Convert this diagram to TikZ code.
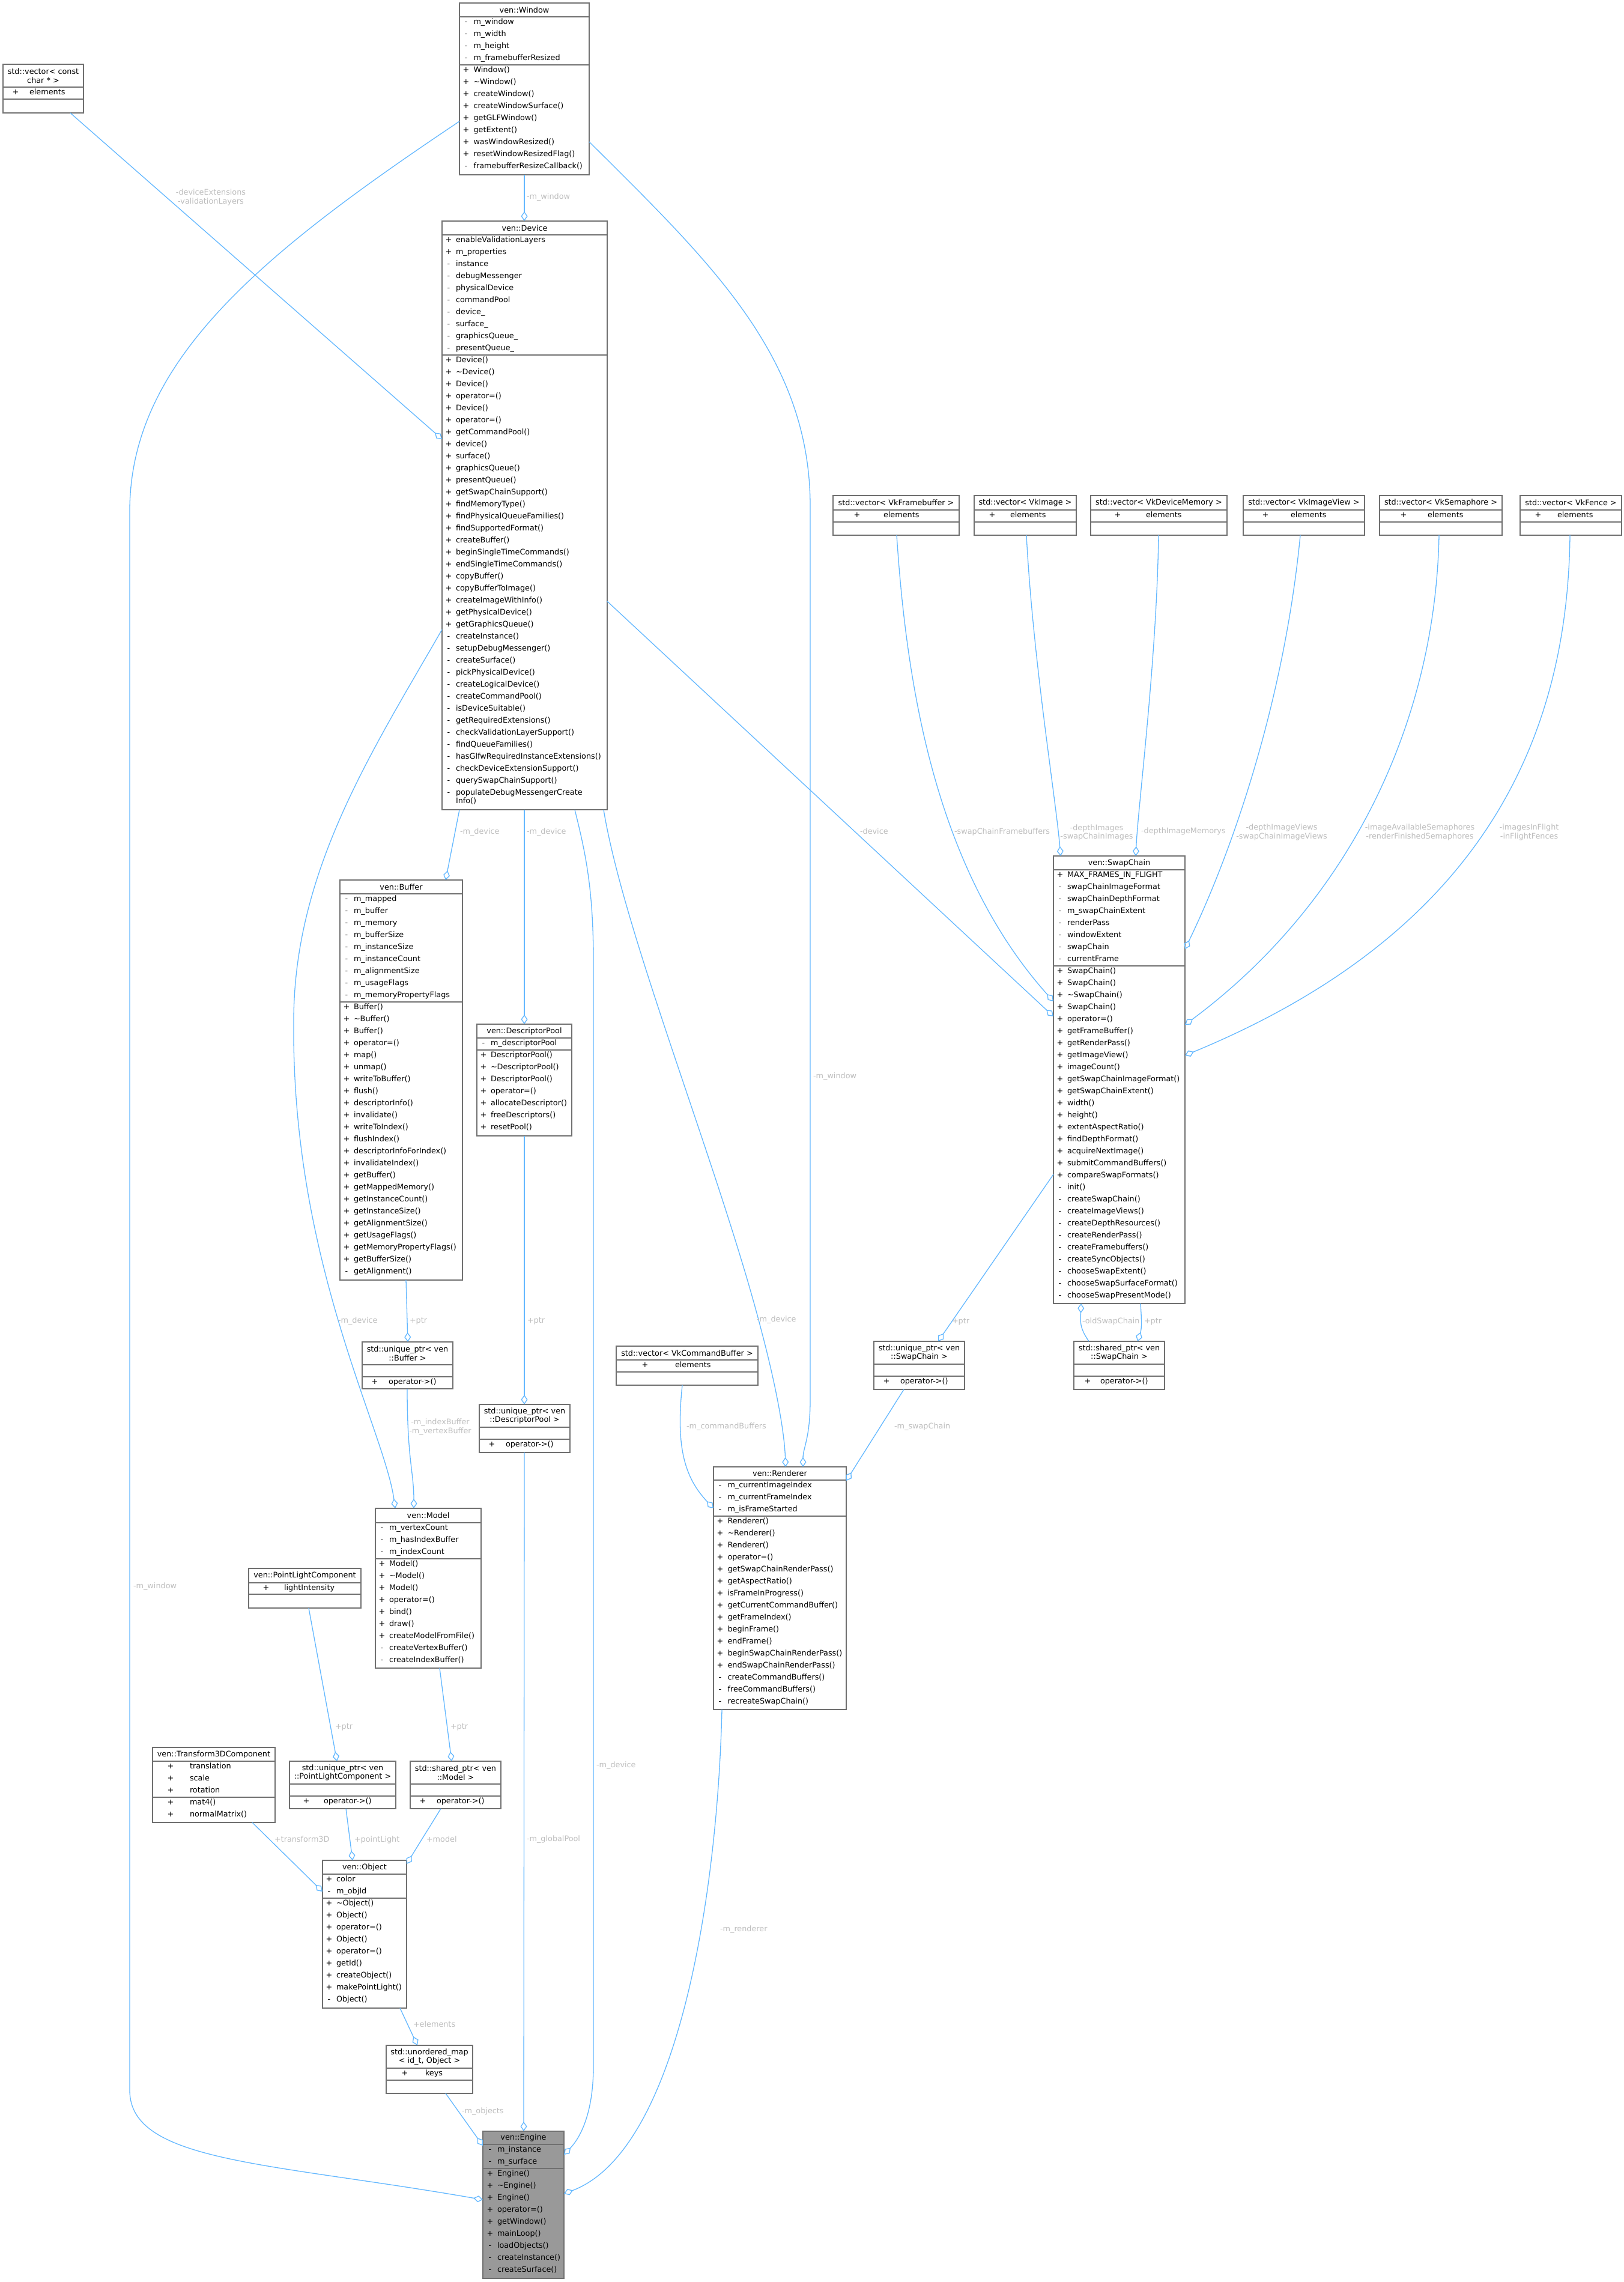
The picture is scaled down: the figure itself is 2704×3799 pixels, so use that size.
\documentclass[tikz,border=0pt]{standalone}
\usepackage{fontspec}
\setmainfont{DejaVu Sans}
\usetikzlibrary{arrows.meta}
\definecolor{edgec}{RGB}{99,184,255}
\definecolor{elabc}{RGB}{190,190,190}
\definecolor{bordc}{RGB}{112,112,112}
\definecolor{focusc}{RGB}{153,153,153}
\newcounter{tn}
\tikzset{
  umlbox/.style={draw=bordc, line width=1.4pt, rectangle, inner sep=0pt, outer sep=0pt},
  sepline/.style={draw=bordc, line width=1.4pt},
  txt/.style={font=\fontsize{12.8}{14.5}\selectfont, inner sep=0pt, outer sep=0pt, text=black},
  etxt/.style={txt, text=elabc, align=center},
  conn/.style={draw=edgec, line width=1.3pt, -{Diamond[open,length=16pt,width=11pt]}},
}
\newcommand\mkbox[8][white]{%
  \pgfmathsetmacro\bw{#5-#3}\pgfmathsetmacro\bh{#6-#4}%
  \node[umlbox, fill=#1, minimum width=\bw pt, minimum height=\bh pt, anchor=north west] (#2) at (#3,#4) {};
  \draw[sepline] (#3,#7) -- (#5,#7);
  \draw[sepline] (#3,#8) -- (#5,#8);
}
\newcommand\ttl[4]{\node[txt, align=center] (#1) at (#2,#3) {#4};}
\newcommand\rws[5]{%
  \foreach \sy/\nm [count=\rr] in {#5} {%
    \pgfmathsetmacro\yy{#2+9.5+20*(\rr-1)}%
    \stepcounter{tn}%
    \node[txt, anchor=mid] (s\arabic{tn}) at (#1+#3,\yy) {\sy};
    \node[txt, anchor=mid west] (n\arabic{tn}) at (#1+#4,\yy) {\nm};
  }}
\newcommand\elab[4][mid west]{\stepcounter{tn}\node[etxt, anchor=#1] (l\arabic{tn}) at (#2,#3) {#4};}

\begin{document}
\begin{tikzpicture}[x=1pt,y=-1pt]
\useasboundingbox (0,0) rectangle (2704,3799);
\fill[white] (0,0) rectangle (2704,3799);

% ---------- boxes ----------
\mkbox{vcc}{5}{107}{139}{188}{145}{165}
\ttl{vcct}{72}{126}{std::vector< const\\char * >}
\rws{5}{145}{21}{44}{+/elements}

\mkbox{win}{765}{5}{981}{291}{28}{108}
\ttl{wint}{873}{16.5}{ven::Window}
\rws{765}{28}{11}{23.5}{-/m\_window,-/m\_width,-/m\_height,-/m\_framebufferResized}
\rws{765}{108}{11}{23.5}{+/Window(),+/\textasciitilde Window(),+/createWindow(),+/createWindowSurface(),+/getGLFWindow(),+/getExtent(),+/wasWindowResized(),+/resetWindowResizedFlag(),-/framebufferResizeCallback()}

\mkbox{dev}{736}{368}{1011}{1348}{391}{591}
\ttl{devt}{873.5}{379.5}{ven::Device}
\rws{736}{391}{11}{23}{+/enableValidationLayers,+/m\_properties,-/instance,-/debugMessenger,-/physicalDevice,-/commandPool,-/device\_,-/surface\_,-/graphicsQueue\_,-/presentQueue\_}
\rws{736}{591}{11}{23}{+/Device(),+/\textasciitilde Device(),+/Device(),+/operator=(),+/Device(),+/operator=(),+/getCommandPool(),+/device(),+/surface(),+/graphicsQueue(),+/presentQueue(),+/getSwapChainSupport(),+/findMemoryType(),+/findPhysicalQueueFamilies(),+/findSupportedFormat(),+/createBuffer(),+/beginSingleTimeCommands(),+/endSingleTimeCommands(),+/copyBuffer(),+/copyBufferToImage(),+/createImageWithInfo(),+/getPhysicalDevice(),+/getGraphicsQueue(),-/createInstance(),-/setupDebugMessenger(),-/createSurface(),-/pickPhysicalDevice(),-/createLogicalDevice(),-/createCommandPool(),-/isDeviceSuitable(),-/getRequiredExtensions(),-/checkValidationLayerSupport(),-/findQueueFamilies(),-/hasGlfwRequiredInstanceExtensions(),-/checkDeviceExtensionSupport(),-/querySwapChainSupport()}
\node[txt,anchor=mid] (dvx1) at (747,1320.5) {-};
\node[txt,anchor=mid west] (dvx2) at (759,1320.5) {populateDebugMessengerCreate};
\node[txt,anchor=mid west] (dvx3) at (759,1334.5) {Info()};

\mkbox{vfb}{1387}{825}{1597}{891}{849}{869}
\ttl{vfbt}{1492}{837}{std::vector< VkFramebuffer >}
\rws{1387}{849}{40}{84}{+/elements}
\mkbox{vim}{1622}{825}{1792}{891}{849}{869}
\ttl{vimt}{1707}{837}{std::vector< VkImage >}
\rws{1622}{849}{30}{60}{+/elements}
\mkbox{vdm}{1816}{825}{2043}{891}{849}{869}
\ttl{vdmt}{1929.5}{837}{std::vector< VkDeviceMemory >}
\rws{1816}{849}{45}{92}{+/elements}
\mkbox{viv}{2070}{825}{2272}{891}{849}{869}
\ttl{vivt}{2171}{837}{std::vector< VkImageView >}
\rws{2070}{849}{37}{79}{+/elements}
\mkbox{vse}{2297}{825}{2501}{891}{849}{869}
\ttl{vset}{2399}{837}{std::vector< VkSemaphore >}
\rws{2297}{849}{40}{80}{+/elements}
\mkbox{vfe}{2531}{825}{2700}{891}{849}{869}
\ttl{vfet}{2615.5}{837}{std::vector< VkFence >}
\rws{2531}{849}{30}{62}{+/elements}

\mkbox{swc}{1754}{1425}{1973}{2170}{1448}{1608}
\ttl{swct}{1863.5}{1436.5}{ven::SwapChain}
\rws{1754}{1448}{11}{23}{+/MAX\_FRAMES\_IN\_FLIGHT,-/swapChainImageFormat,-/swapChainDepthFormat,-/m\_swapChainExtent,-/renderPass,-/windowExtent,-/swapChain,-/currentFrame}
\rws{1754}{1608}{11}{23}{+/SwapChain(),+/SwapChain(),+/\textasciitilde SwapChain(),+/SwapChain(),+/operator=(),+/getFrameBuffer(),+/getRenderPass(),+/getImageView(),+/imageCount(),+/getSwapChainImageFormat(),+/getSwapChainExtent(),+/width(),+/height(),+/extentAspectRatio(),+/findDepthFormat(),+/acquireNextImage(),+/submitCommandBuffers(),+/compareSwapFormats(),-/init(),-/createSwapChain(),-/createImageViews(),-/createDepthResources(),-/createRenderPass(),-/createFramebuffers(),-/createSyncObjects(),-/chooseSwapExtent(),-/chooseSwapSurfaceFormat(),-/chooseSwapPresentMode()}

\mkbox{buf}{566}{1465}{770}{2131}{1488}{1668}
\ttl{buft}{668}{1476.5}{ven::Buffer}
\rws{566}{1488}{11}{23}{-/m\_mapped,-/m\_buffer,-/m\_memory,-/m\_bufferSize,-/m\_instanceSize,-/m\_instanceCount,-/m\_alignmentSize,-/m\_usageFlags,-/m\_memoryPropertyFlags}
\rws{566}{1668}{11}{23}{+/Buffer(),+/\textasciitilde Buffer(),+/Buffer(),+/operator=(),+/map(),+/unmap(),+/writeToBuffer(),+/flush(),+/descriptorInfo(),+/invalidate(),+/writeToIndex(),+/flushIndex(),+/descriptorInfoForIndex(),+/invalidateIndex(),+/getBuffer(),+/getMappedMemory(),+/getInstanceCount(),+/getInstanceSize(),+/getAlignmentSize(),+/getUsageFlags(),+/getMemoryPropertyFlags(),+/getBufferSize(),-/getAlignment()}

\mkbox{dpl}{794}{1705}{952}{1891}{1728}{1748}
\ttl{dplt}{873}{1716.5}{ven::DescriptorPool}
\rws{794}{1728}{11}{23}{-/m\_descriptorPool}
\rws{794}{1748}{11}{23}{+/DescriptorPool(),+/\textasciitilde DescriptorPool(),+/DescriptorPool(),+/operator=(),+/allocateDescriptor(),+/freeDescriptors(),+/resetPool()}

\mkbox{upb}{603}{2234}{754}{2312}{2272}{2292}
\ttl{upbt}{678.5}{2253}{std::unique\_ptr< ven\\::Buffer >}
\rws{603}{2292}{21}{44}{+/operator->()}

\mkbox{upd}{798}{2338}{949}{2418}{2376}{2396}
\ttl{updt}{873.5}{2357}{std::unique\_ptr< ven\\::DescriptorPool >}
\rws{798}{2396}{21}{44}{+/operator->()}

\mkbox{vcb}{1026}{2241}{1262}{2306}{2264}{2284}
\ttl{vcbt}{1144}{2252.5}{std::vector< VkCommandBuffer >}
\rws{1026}{2264}{48}{98}{+/elements}

\mkbox{ups}{1455}{2233}{1606}{2313}{2271}{2291}
\ttl{upst}{1530.5}{2252}{std::unique\_ptr< ven\\::SwapChain >}
\rws{1455}{2291}{21}{44}{+/operator->()}

\mkbox{sps}{1788}{2233}{1939}{2313}{2271}{2291}
\ttl{spst}{1863.5}{2252}{std::shared\_ptr< ven\\::SwapChain >}
\rws{1788}{2291}{23}{44}{+/operator->()}

\mkbox{ren}{1188}{2442}{1409}{2846}{2464}{2524}
\ttl{rent}{1298.5}{2453}{ven::Renderer}
\rws{1188}{2464}{11}{23.5}{-/m\_currentImageIndex,-/m\_currentFrameIndex,-/m\_isFrameStarted}
\rws{1188}{2524}{11}{23.5}{+/Renderer(),+/\textasciitilde Renderer(),+/Renderer(),+/operator=(),+/getSwapChainRenderPass(),+/getAspectRatio(),+/isFrameInProgress(),+/getCurrentCommandBuffer(),+/getFrameIndex(),+/beginFrame(),+/endFrame(),+/beginSwapChainRenderPass(),+/endSwapChainRenderPass(),-/createCommandBuffers(),-/freeCommandBuffers(),-/recreateSwapChain()}

\mkbox{mdl}{625}{2511}{801}{2777}{2535}{2595}
\ttl{mdlt}{713}{2523}{ven::Model}
\rws{625}{2535}{11}{23}{-/m\_vertexCount,-/m\_hasIndexBuffer,-/m\_indexCount}
\rws{625}{2595}{11}{23}{+/Model(),+/\textasciitilde Model(),+/Model(),+/operator=(),+/bind(),+/draw(),+/createModelFromFile(),-/createVertexBuffer(),-/createIndexBuffer()}

\mkbox{plc}{414}{2611}{601}{2677}{2635}{2654}
\ttl{plct}{507.5}{2623}{ven::PointLightComponent}
\rws{414}{2635}{29}{59}{+/lightIntensity}

\mkbox{t3d}{254}{2909}{458}{3034}{2932}{2992}
\ttl{t3dt}{356}{2920.5}{ven::Transform3DComponent}
\rws{254}{2932}{30}{62}{+/translation,+/scale,+/rotation}
\rws{254}{2992}{30}{62}{+/mat4(),+/normalMatrix()}

\mkbox{upl}{482}{2932}{659}{3011}{2970}{2990}
\ttl{uplt}{570.5}{2951}{std::unique\_ptr< ven\\::PointLightComponent >}
\rws{482}{2990}{28}{57}{+/operator->()}

\mkbox{spm}{683}{2932}{834}{3011}{2970}{2990}
\ttl{spmt}{758.5}{2951}{std::shared\_ptr< ven\\::Model >}
\rws{683}{2990}{21}{44}{+/operator->()}

\mkbox{obj}{537}{3097}{677}{3343}{3120}{3160}
\ttl{objt}{607}{3108.5}{ven::Object}
\rws{537}{3120}{11}{23}{+/color,-/m\_objId}
\rws{537}{3160}{11}{23}{+/\textasciitilde Object(),+/Object(),+/operator=(),+/Object(),+/operator=(),+/getId(),+/createObject(),+/makePointLight(),-/Object()}

\mkbox{umap}{643}{3405}{787}{3485}{3443}{3463}
\ttl{umapt}{715}{3424}{std::unordered\_map\\< id\_t, Object >}
\rws{643}{3443}{31}{65}{+/keys}

\mkbox[focusc]{eng}{804}{3548}{939}{3793}{3570}{3610}
\ttl{engt}{871.5}{3559}{ven::Engine}
\rws{804}{3570}{12}{24}{-/m\_instance,-/m\_surface}
\rws{804}{3610}{12}{24}{+/Engine(),+/\textasciitilde Engine(),+/Engine(),+/operator=(),+/getWindow(),+/mainLoop(),-/loadObjects(),-/createInstance(),-/createSurface()}

% ---------- connectors ----------
\draw[conn] ([xshift=112pt]vcc.south west) -- ([yshift=-363pt]dev.north west);
\draw[conn] ([xshift=108pt]win.south west) -- ([xshift=137pt]dev.north west);
\draw[conn] ([yshift=-197pt]win.north west) .. controls (436,422) and (216,601) .. (216,851) -- (216,3480) .. controls (216,3600) and (450,3600) .. ([yshift=-114pt]eng.north west);
\draw[conn] ([yshift=-231pt]win.north east) .. controls (1182,436) and (1349,593) .. (1349,843) -- (1349,2330) .. controls (1349,2395) and (1337,2410) .. ([xshift=149pt]ren.north west);
\draw[conn] ([xshift=29pt]dev.south west) -- ([xshift=176pt]buf.north west);
\draw[conn] ([xshift=137pt]dev.south west) -- ([xshift=79pt]dpl.north west);
\draw[conn] ([yshift=-680pt]dev.north west) .. controls (620,1250) and (489,1450) .. (489,1700) .. controls (485,2100) and (640,2380) .. ([xshift=33pt]mdl.north west);
\draw[conn] ([xshift=269pt]dev.south west) .. controls (1040,1560) and (1200,1950) .. (1269,2220) .. controls (1290,2300) and (1306,2380) .. ([xshift=120pt]ren.north west);
\draw[conn] ([yshift=-633pt]dev.north east) -- ([yshift=-267pt]swc.north west);
\draw[conn] ([xshift=221pt]dev.south west) .. controls (975,1420) and (988,1480) .. (988,1600) -- (988,3440) .. controls (988,3520) and (965,3560) .. ([yshift=-39pt]eng.north east);
\draw[conn] ([xshift=110pt]buf.south west) -- ([xshift=76pt]upb.north west);
\draw[conn] ([xshift=79pt]dpl.south west) -- ([xshift=75pt]upd.north west);
\draw[conn] ([xshift=75pt]upd.south west) -- ([xshift=68pt]eng.north west);
\draw[conn] ([xshift=75pt]upb.south west) .. controls (678,2430) and (689,2450) .. ([xshift=64pt]mdl.north west);
\draw[conn] ([xshift=106pt]vfb.south west) .. controls (1510,1150) and (1560,1450) .. ([yshift=-242pt]swc.north west);
\draw[conn] ([xshift=87pt]vim.south west) .. controls (1720,1100) and (1758,1330) .. ([xshift=12pt]swc.north west);
\draw[conn] ([xshift=113pt]vdm.south west) .. controls (1926,1100) and (1895,1340) .. ([xshift=137pt]swc.north west);
\draw[conn] ([xshift=95pt]viv.south west) .. controls (2140,1150) and (2060,1400) .. ([yshift=-155pt]swc.north east);
\draw[conn] ([xshift=99pt]vse.south west) .. controls (2390,1200) and (2250,1500) .. ([yshift=-281pt]swc.north east);
\draw[conn] ([xshift=83pt]vfe.south west) .. controls (2610,1250) and (2450,1560) .. ([yshift=-332pt]swc.north east);
\draw[conn] ([yshift=-530pt]swc.north west) -- ([xshift=107pt]ups.north west);
\draw[conn] ([xshift=25pt]sps.north west) .. controls (1797,2210) and (1799,2200) .. ([xshift=46pt]swc.south west);
\draw[conn] ([xshift=145pt]swc.south west) .. controls (1901,2200) and (1901,2212) .. ([xshift=106pt]sps.north west);
\draw[conn] ([xshift=50pt]ups.south west) -- ([yshift=-23pt]ren.north east);
\draw[conn] ([xshift=110pt]vcb.south west) .. controls (1125,2410) and (1140,2460) .. ([yshift=-69pt]ren.north west);
\draw[conn] ([xshift=14pt]ren.south west) .. controls (1195,3150) and (1130,3580) .. ([yshift=-104pt]eng.north east);
\draw[conn] ([xshift=107pt]mdl.south west) -- ([xshift=69pt]spm.north west);
\draw[conn] ([xshift=100pt]plc.south west) -- ([xshift=79pt]upl.north west);
\draw[conn] ([xshift=166pt]t3d.south west) -- ([yshift=-52pt]obj.north west);
\draw[conn] ([xshift=94pt]upl.south west) -- ([xshift=50pt]obj.north west);
\draw[conn] ([xshift=51pt]spm.south west) -- ([yshift=-6pt]obj.north east);
\draw[conn] ([xshift=129pt]obj.south west) -- ([xshift=52pt]umap.north west);
\draw[conn] ([xshift=99pt]umap.south west) -- ([yshift=-24pt]eng.north west);

% ---------- connector labels ----------
\elab[center]{351}{328.5}{-deviceExtensions\\-validationLayers}
\elab{877}{329}{-m\_window}
\elab{222}{2642}{-m\_window}
\elab{1354}{1793}{-m\_window}
\elab{766}{1386}{-m\_device}
\elab{877}{1386}{-m\_device}
\elab{563}{2200}{-m\_device}
\elab{1260}{2198}{-m\_device}
\elab{1432}{1386}{-device}
\elab{993}{2940}{-m\_device}
\elab{682}{2200}{+ptr}
\elab{878}{2200}{+ptr}
\elab{877}{3063}{-m\_globalPool}
\elab[center]{733}{2375.5}{-m\_indexBuffer\\-m\_vertexBuffer}
\elab{1589}{1386}{-swapChainFramebuffers}
\elab[center]{1826}{1386}{-depthImages\\-swapChainImages}
\elab{1900}{1385}{-depthImageMemorys}
\elab[center]{2134}{1385.5}{-depthImageViews\\-swapChainImageViews}
\elab[center]{2364}{1385.5}{-imageAvailableSemaphores\\-renderFinishedSemaphores}
\elab[center]{2546}{1385.5}{-imagesInFlight\\-inFlightFences}
\elab{1585}{2201}{+ptr}
\elab{1802}{2201}{-oldSwapChain}
\elab{1905}{2201}{+ptr}
\elab{1489}{2376}{-m\_swapChain}
\elab{1143}{2376}{-m\_commandBuffers}
\elab{1199}{3213}{-m\_renderer}
\elab{750}{2876}{+ptr}
\elab{558}{2876}{+ptr}
\elab{457}{3064}{+transform3D}
\elab{590}{3064}{+pointLight}
\elab{710}{3064}{+model}
\elab{688}{3372}{+elements}
\elab{769}{3516}{-m\_objects}
\end{tikzpicture}
\end{document}
